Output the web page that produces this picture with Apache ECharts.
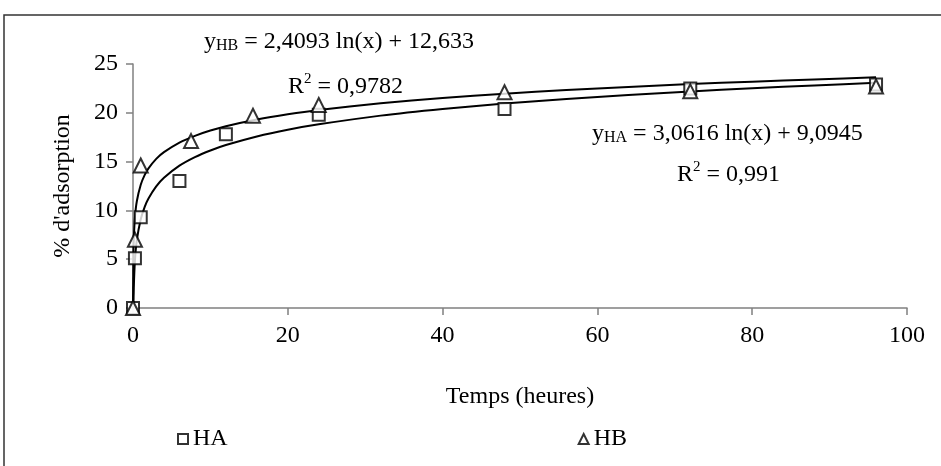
<!DOCTYPE html>
<html>
<head>
<meta charset="UTF-8">
<title>Adsorption</title>
<style>
  html, body { margin: 0; padding: 0; background: #fff; }
  #main { width: 941px; height: 466px; }
</style>
</head>
<body>
<div id="main"></div>
<script src="https://cdn.jsdelivr.net/npm/echarts@6/dist/echarts.min.js"></script>
<script>
// measured points (temps en heures, % d'adsorption)
var haTime = [0, 0.25, 1, 6, 12, 24, 48, 72, 96];
var haVal  = [0, 5.1, 9.3, 13.0, 17.8, 19.8, 20.4, 22.5, 22.9];
var hbTime = [0, 0.25, 1, 7.5, 15.5, 24, 48, 72, 96];
var hbVal  = [0, 7.0, 14.6, 17.1, 19.7, 20.8, 22.1, 22.2, 22.7];

// trend lines
var trendTime = [0.05, 0.1, 0.25, 0.5, 1, 1.5, 2, 3, 4, 6, 8, 10, 12, 16, 20, 24, 32, 40, 48, 56, 64, 72, 80, 88, 96];
var haTrend = [0, 2.05, 4.85, 6.97, 9.09, 10.34, 11.22, 12.46, 13.34, 14.58, 15.46, 16.14, 16.7, 17.58, 18.27, 18.82, 19.71, 20.39, 20.95, 21.42, 21.83, 22.19, 22.51, 22.80, 23.07];
var hbTrend = [5.42, 7.09, 9.29, 10.96, 12.63, 13.61, 14.30, 15.28, 15.97, 16.95, 17.64, 18.18, 18.62, 19.31, 19.85, 20.29, 20.98, 21.52, 21.96, 22.33, 22.65, 22.94, 23.19, 23.42, 23.63];

var yTicks = [0, 5, 10, 15, 20, 25];
var xTicks = [0, 20, 40, 60, 80, 100];

function pairs(xs, ys) {
  return xs.map(function (x, i) { return [x, ys[i]]; });
}

var serif = 'Liberation Serif';
var fs = 24;
var chart = echarts.init(document.getElementById('main'));

var eqStyle = {
  fontFamily: serif, fontSize: fs, fill: '#000',
  rich: {
    m: { fontFamily: serif, fontSize: fs, color: '#000' },
    s: { fontFamily: serif, fontSize: 16, color: '#000', padding: [7, 0, 0, 0] },
    sup: { fontFamily: serif, fontSize: 15, color: '#000', padding: [0, 0, 15, 0] }
  }
};

chart.setOption({
  backgroundColor: '#fff',
  animation: false,
  grid: { left: 133, right: 34, top: 64, bottom: 158 },
  xAxis: {
    type: 'value', min: xTicks[0], max: xTicks[xTicks.length - 1], interval: 20,
    name: 'Temps (heures)', nameLocation: 'middle', nameGap: 77,
    nameTextStyle: { fontFamily: serif, fontSize: fs, color: '#000' },
    axisLine: { lineStyle: { color: '#808080', width: 1.5 } },
    axisTick: { show: true, length: 7, lineStyle: { color: '#808080', width: 1.5 } },
    axisLabel: { fontFamily: serif, fontSize: fs, color: '#000', margin: 16 },
    splitLine: { show: false }
  },
  yAxis: {
    type: 'value', min: yTicks[0], max: yTicks[yTicks.length - 1], interval: 5,
    name: "% d'adsorption", nameLocation: 'middle', nameGap: 58, nameRotate: 90,
    nameTextStyle: { fontFamily: serif, fontSize: fs, color: '#000' },
    axisLine: { show: true, lineStyle: { color: '#808080', width: 1.5 } },
    axisTick: { show: true, length: 7, lineStyle: { color: '#808080', width: 1.5 } },
    axisLabel: { fontFamily: serif, fontSize: fs, color: '#000', margin: 15 },
    splitLine: { show: false }
  },
  legend: {
    data: ['HA', 'HB'],
    left: 172, top: 422,
    itemWidth: 10, itemHeight: 10, itemGap: 350,
    textStyle: { fontFamily: serif, fontSize: fs, color: '#000' }
  },
  graphic: [
    { type: 'rect', shape: { x: 4, y: 15, width: 1000, height: 1000 },
      style: { fill: 'none', stroke: '#333', lineWidth: 1.5 }, silent: true },
    { type: 'text', left: 204, top: 30,
      style: Object.assign({}, eqStyle, { text: '{m|y}{s|HB}{m| = 2,4093 ln(x) + 12,633}' }) },
    { type: 'text', left: 288, top: 72,
      style: Object.assign({}, eqStyle, { text: '{m|R}{sup|2}{m| = 0,9782}' }) },
    { type: 'text', left: 592, top: 122,
      style: Object.assign({}, eqStyle, { text: '{m|y}{s|HA}{m| = 3,0616 ln(x) + 9,0945}' }) },
    { type: 'text', left: 677, top: 160,
      style: Object.assign({}, eqStyle, { text: '{m|R}{sup|2}{m| = 0,991}' }) }
  ],
  series: [
    {
      name: 'trend HA', type: 'line', data: pairs(trendTime, haTrend),
      showSymbol: false, smooth: 0.2, lineStyle: { color: '#000', width: 2 }, z: 1
    },
    {
      name: 'trend HB', type: 'line', data: pairs(trendTime, hbTrend),
      showSymbol: false, smooth: 0.2, lineStyle: { color: '#000', width: 2 }, z: 1
    },
    {
      name: 'start HA', type: 'line', data: [[haTime[0], haVal[0]], [trendTime[0], haTrend[0]]],
      showSymbol: false, lineStyle: { color: '#000', width: 2 }, z: 1
    },
    {
      name: 'start HB', type: 'line', data: [[hbTime[0], hbVal[0]], [trendTime[0], hbTrend[0]]],
      showSymbol: false, lineStyle: { color: '#000', width: 2 }, z: 1
    },
    {
      name: 'HA', type: 'scatter', data: pairs(haTime, haVal),
      symbol: 'rect', symbolSize: 12,
      itemStyle: { color: '#fff', borderColor: '#000', borderWidth: 2 }, z: 3
    },
    {
      name: 'HB', type: 'scatter', data: pairs(hbTime, hbVal),
      symbol: 'triangle', symbolSize: 14,
      itemStyle: { color: '#fff', borderColor: '#000', borderWidth: 2 }, z: 4
    }
  ]
});
</script>
</body>
</html>
